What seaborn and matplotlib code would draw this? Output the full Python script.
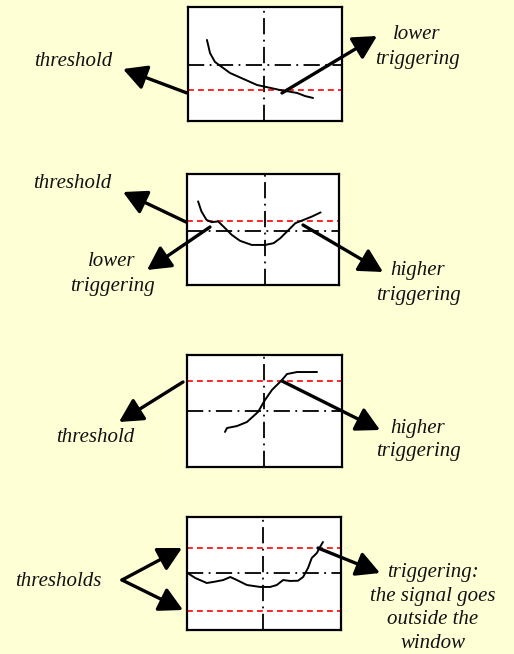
"""Trigger modes sketch: lower / higher / window triggering on a threshold."""

import matplotlib.pyplot as plt
import seaborn as sns

sns.set_style("white")
plt.rcParams["font.family"] = ["Liberation Serif", "DejaVu Serif"]

BG = "#FFFFD6"
W, H = 514, 654

# ---- data (panel-local units, 0..100 on both axes, y up) ----
p1_x = [12.3, 14.3, 17.5, 27.3, 44.8, 59.7, 70.8, 76.0, 81.2]
p1_y = [71.1, 59.6, 51.8, 42.1, 31.6, 27.2, 24.6, 21.9, 20.2]
p1_thresholds = [27.2]
p1_center = (49.4, 49.1)

p2_x = [7.3, 9.5, 12.8, 16.2, 20.5, 25.0, 29.4, 34.9, 42.6, 51.5, 57.0, 61.4, 65.8, 71.3, 76.8, 82.4, 87.9]
p2_y = [75.3, 66.3, 58.7, 56.6, 57.3, 51.3, 45.2, 39.8, 36.1, 36.1, 37.7, 42.2, 48.2, 55.7, 58.7, 61.8, 65.4]
p2_thresholds = [57.8]
p2_center = (51.5, 48.8)

p3_x = [24.5, 25.8, 32.3, 38.7, 45.8, 50.3, 54.8, 61.3, 64.5, 71.0, 83.9]
p3_y = [31.3, 34.8, 36.6, 40.2, 49.1, 59.8, 68.8, 77.7, 83.0, 84.8, 84.8]
p3_thresholds = [76.8]
p3_center = (49.7, 50.0)

p4_x = [0.0, 5.4, 12.8, 17.0, 23.5, 28.1, 32.4, 38.9, 47.5, 54.0, 58.3, 62.4, 66.9, 72.1, 75.4, 78.6, 81.0, 84.3, 86.4, 88.3]
p4_y = [50.7, 46.0, 41.6, 42.5, 44.2, 46.9, 44.2, 39.8, 38.1, 38.1, 39.8, 44.2, 43.4, 43.6, 46.9, 54.9, 63.7, 68.1, 73.5, 77.9]
p4_thresholds = [72.6, 16.8]
p4_center = (49.4, 50.4)

panels = [
    ((188, 7, 342, 121), p1_x, p1_y, p1_thresholds, p1_center),
    ((187, 174, 339, 285), p2_x, p2_y, p2_thresholds, p2_center),
    ((187, 355, 342, 467), p3_x, p3_y, p3_thresholds, p3_center),
    ((187, 517, 341, 630), p4_x, p4_y, p4_thresholds, p4_center),
]

# labels: (text, x, y, line spacing) in figure pixels
labels = [
    ("threshold", 73, 62, 1.3),
    ("lower\ntriggering", 417, 47, 1.45),
    ("threshold", 72, 184, 1.3),
    ("lower\ntriggering", 112, 274, 1.45),
    ("higher\ntriggering", 418, 283, 1.4),
    ("threshold", 95, 438, 1.3),
    ("higher\ntriggering", 418, 440, 1.35),
    ("thresholds", 58, 581, 1.3),
    ("triggering:\nthe signal goes\noutside the\nwindow", 433, 608, 1.33),
]

# arrows: (start, tip) in figure pixels
arrows = [
    ((187, 93), (123, 69)),
    ((282, 93), (377, 36)),
    ((186, 222), (123, 192)),
    ((210, 227), (147, 270)),
    ((303, 225), (383, 272)),
    ((183, 382), (119, 422)),
    ((282, 381), (380, 430)),
    ((122, 580), (182, 548)),
    ((122, 580), (183, 610)),
    ((318, 548), (380, 573)),
]

fig = plt.figure(figsize=(W / 100, H / 100), dpi=100, facecolor=BG)

for (x0, y0, x1, y1), xs, ys, thr, (cx, cy) in panels:
    ax = fig.add_axes([x0 / W, 1 - y1 / H, (x1 - x0) / W, (y1 - y0) / H])
    ax.set_facecolor("white")
    ax.set_xlim(0, 100)
    ax.set_ylim(0, 100)
    ax.set_xticks([])
    ax.set_yticks([])
    for s in ax.spines.values():
        s.set_linewidth(1.6)
        s.set_color("black")
    ax.axvline(cx, color="black", lw=1.3, ls=(0, (9, 3, 1, 3)))
    ax.axhline(cy, color="black", lw=1.3, ls=(0, (9, 3, 1, 3)))
    for t in thr:
        ax.axhline(t, color="red", lw=1.2, ls=(0, (3.5, 2.5)))
    sns.lineplot(x=xs, y=ys, sort=False, estimator=None, color="black", lw=1.4, ax=ax)

over = fig.add_axes([0, 0, 1, 1], zorder=10)
over.set_xlim(0, W)
over.set_ylim(H, 0)
over.axis("off")
over.patch.set_alpha(0)

for start, tip in arrows:
    over.annotate("", xy=tip, xytext=start,
                  arrowprops=dict(arrowstyle="-|>,head_length=0.75,head_width=0.4",
                                  lw=2.4, color="black", mutation_scale=19,
                                  shrinkA=0, shrinkB=0))

for txt, x, y, ls in labels:
    over.text(x, y, txt, ha="center", va="center", fontsize=15, style="italic",
              linespacing=ls, color="#111111")

fig.savefig("out.png", dpi=100, facecolor=BG)
